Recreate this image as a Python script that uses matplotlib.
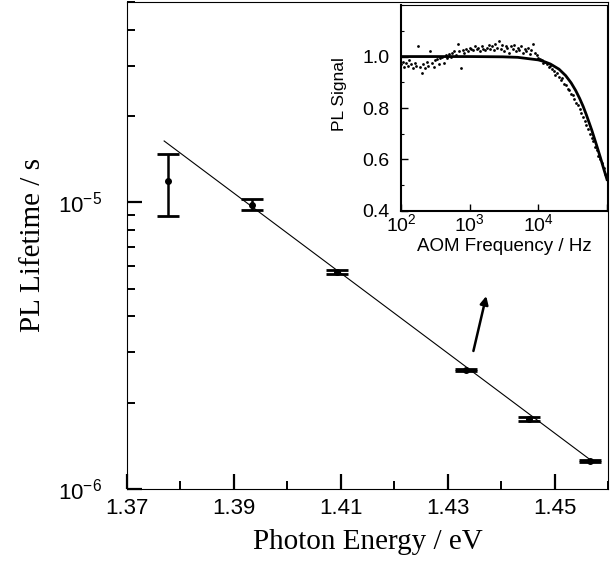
import numpy as np
import matplotlib
matplotlib.use("Agg")
import matplotlib.pyplot as plt
from matplotlib.ticker import LogLocator, NullFormatter, MultipleLocator

plt.rcParams['font.family'] = ['Liberation Sans', 'DejaVu Sans']
plt.rcParams['mathtext.fontset'] = 'custom'
plt.rcParams['mathtext.rm'] = 'Liberation Sans'
plt.rcParams['mathtext.it'] = 'Liberation Sans:italic'
plt.rcParams['mathtext.bf'] = 'Liberation Sans:bold'

# main panel: PL lifetime vs photon energy
energy = [1.3778, 1.3935, 1.4093, 1.4335, 1.4452, 1.4566]
lifetime = [1.187e-5, 9.79e-6, 5.71e-6, 2.60e-6, 1.76e-6, 1.25e-6]
err_low = [2.91e-6, 3.6e-7, 8.5e-8, 3.0e-8, 3.0e-8, 1.0e-8]
err_high = [2.93e-6, 4.8e-7, 8.5e-8, 3.0e-8, 3.0e-8, 1.0e-8]

# exponential fit (straight line on the log axis)
fit_energy = [1.377, 1.457]
fit_lifetime = [1.637e-5, 1.25e-6]

# arrow pointing from the 1.434 eV point to the inset
arrow_from = (1.4348, 3.03e-6)
arrow_to = (1.4372, 4.71e-6)

# inset: PL signal vs AOM modulation frequency
aom_freq = [100, 106, 112, 119, 126, 133, 141, 150, 158, 168,
            178, 188, 200, 211, 224, 237, 251, 266, 282, 299,
            316, 335, 355, 376, 398, 422, 447, 473, 501, 531,
            562, 596, 631, 668, 708, 750, 794, 841, 891, 944,
            1000, 1059, 1122, 1189, 1259, 1334, 1413, 1496, 1585, 1679,
            1778, 1884, 1995, 2113, 2239, 2371, 2512, 2661, 2818, 2985,
            3162, 3350, 3548, 3758, 3981, 4217, 4467, 4732, 5012, 5309,
            5623, 5957, 6310, 6683, 7079, 7499, 7943, 8414, 8913, 9441,
            10000, 10593, 11220, 11885, 12589, 13335, 14125, 14962, 15849, 16788,
            17783, 18836, 19953, 21135, 22387, 23714, 25119, 26607, 28184, 29854,
            31623, 33497, 35481, 37584, 39811, 42170, 44668, 47315, 50119, 53088,
            56234, 59566, 63096, 66834, 70795, 74989, 79433, 84140, 89125, 94406,
            100000]
pl_signal = [0.970, 0.980, 0.960, 0.975, 0.965, 0.985, 0.970, 0.955, 0.975, 0.965,
             1.040, 0.960, 0.935, 0.970, 0.955, 0.980, 0.965, 1.020, 0.975, 0.960,
             0.985, 0.990, 0.970, 0.995, 1.000, 0.975, 1.005, 0.995, 1.010, 1.000,
             1.015, 1.020, 1.005, 1.050, 1.020, 0.955, 1.025, 1.015, 1.030, 1.020,
             1.035, 1.030, 1.025, 1.040, 1.030, 1.035, 1.020, 1.040, 1.030, 1.025,
             1.035, 1.045, 1.030, 1.040, 1.025, 1.050, 1.035, 1.060, 1.030, 1.045,
             1.020, 1.040, 1.035, 1.015, 1.040, 1.030, 1.045, 1.020, 1.035, 1.025,
             1.040, 1.015, 1.030, 1.020, 1.035, 1.010, 1.025, 1.050, 1.015, 1.005,
             0.995, 0.990, 0.985, 0.975, 0.980, 0.970, 0.960, 0.965, 0.950, 0.945,
             0.930, 0.935, 0.920, 0.910, 0.915, 0.895, 0.890, 0.875, 0.870, 0.855,
             0.850, 0.835, 0.820, 0.810, 0.795, 0.780, 0.765, 0.750, 0.735, 0.720,
             0.700, 0.685, 0.670, 0.650, 0.635, 0.615, 0.600, 0.585, 0.565, 0.545,
             0.525]

# fitted response curve
curve_freq = [100, 1000, 3000, 5000, 10000, 12000, 15000, 20000, 25000, 30000,
              35000, 40000, 45000, 50000, 60000, 70000, 80000, 90000, 100000]
curve_signal = [1.000, 1.000, 0.999, 0.997, 0.987, 0.981, 0.971, 0.951, 0.926, 0.898,
                0.868, 0.837, 0.806, 0.774, 0.714, 0.658, 0.608, 0.562, 0.522]

fig = plt.figure(figsize=(6.15, 5.67), dpi=100)
ax = fig.add_axes([0.206, 0.1376, 0.783, 0.8589])

ax.plot(fit_energy, fit_lifetime, color='k', lw=0.8)
ax.errorbar(energy, lifetime, yerr=[err_low, err_high], fmt='o', color='k',
            ms=4, elinewidth=1.8, capsize=8, capthick=2)
ax.annotate('', xy=arrow_to, xytext=arrow_from,
            arrowprops=dict(arrowstyle='-|>', lw=1.8, color='k', mutation_scale=12,
                            shrinkA=0, shrinkB=0))

ax.set_yscale('log')
ax.set_xlim(1.37, 1.46)
ax.set_ylim(1e-6, 5e-5)
ax.set_xticks([1.37, 1.39, 1.41, 1.43, 1.45], labels=['1.37', '1.39', '1.41', '1.43', '1.45'])
ax.xaxis.set_minor_locator(MultipleLocator(0.01))
ax.set_yticks([1e-6, 1e-5], labels=['10$^{-6}$', '10$^{-5}$'])
ax.yaxis.set_minor_locator(LogLocator(base=10, subs=np.arange(2, 10)))
ax.yaxis.set_minor_formatter(NullFormatter())
ax.tick_params(which='major', direction='in', length=11, width=1.6, labelsize=16)
ax.tick_params(which='minor', direction='in', length=6, width=1.4)
ax.tick_params(axis='x', which='major', pad=6.5)
ax.tick_params(axis='y', which='major', pad=18)
for side in ['top', 'right', 'left', 'bottom']:
    ax.spines[side].set_linewidth(0.8)

ax.set_xlabel('Photon Energy / eV', family='Liberation Serif', fontsize=21)
ax.set_ylabel('PL Lifetime / s', family='Liberation Serif', fontsize=21)
ax.xaxis.set_label_coords(0.5, -0.082)
ax.yaxis.set_label_coords(-0.167, 0.5)

# inset
ins = fig.add_axes([0.652, 0.628, 0.335, 0.363])
ins.set_facecolor('white')
ins.scatter(aom_freq, pl_signal, s=4, color='k', linewidths=0)
ins.plot(curve_freq, curve_signal, color='k', lw=2)
ins.set_xscale('log')
ins.set_xlim(1e2, 1e5)
ins.set_ylim(0.4, 1.2)
ins.set_xticks([1e2, 1e3, 1e4, 1e5], labels=['10$^{2}$', '10$^{3}$', '10$^{4}$', ''])
ins.xaxis.set_minor_locator(LogLocator(base=10, subs=np.arange(2, 10)))
ins.xaxis.set_minor_formatter(NullFormatter())
ins.set_yticks([0.4, 0.6, 0.8, 1.0], labels=['0.4', '0.6', '0.8', '1.0'])
ins.yaxis.set_minor_locator(MultipleLocator(0.1))
ins.tick_params(which='major', direction='in', length=5, width=1, labelsize=14)
ins.tick_params(which='minor', direction='in', length=2.5, width=0.8)
ins.tick_params(axis='x', which='major', pad=1.5)
ins.tick_params(axis='y', which='major', pad=8)
ins.spines['left'].set_linewidth(1.5)
ins.spines['bottom'].set_linewidth(1.5)
ins.spines['top'].set_linewidth(0.8)
ins.spines['right'].set_linewidth(0.8)
ins.set_xlabel('AOM Frequency / Hz', fontsize=13.5)
ins.set_ylabel('PL Signal', fontsize=12.5)
ins.xaxis.set_label_coords(0.5, -0.131)
ins.yaxis.set_label_coords(-0.26, 0.57)

fig.savefig('out.png', dpi=100)
